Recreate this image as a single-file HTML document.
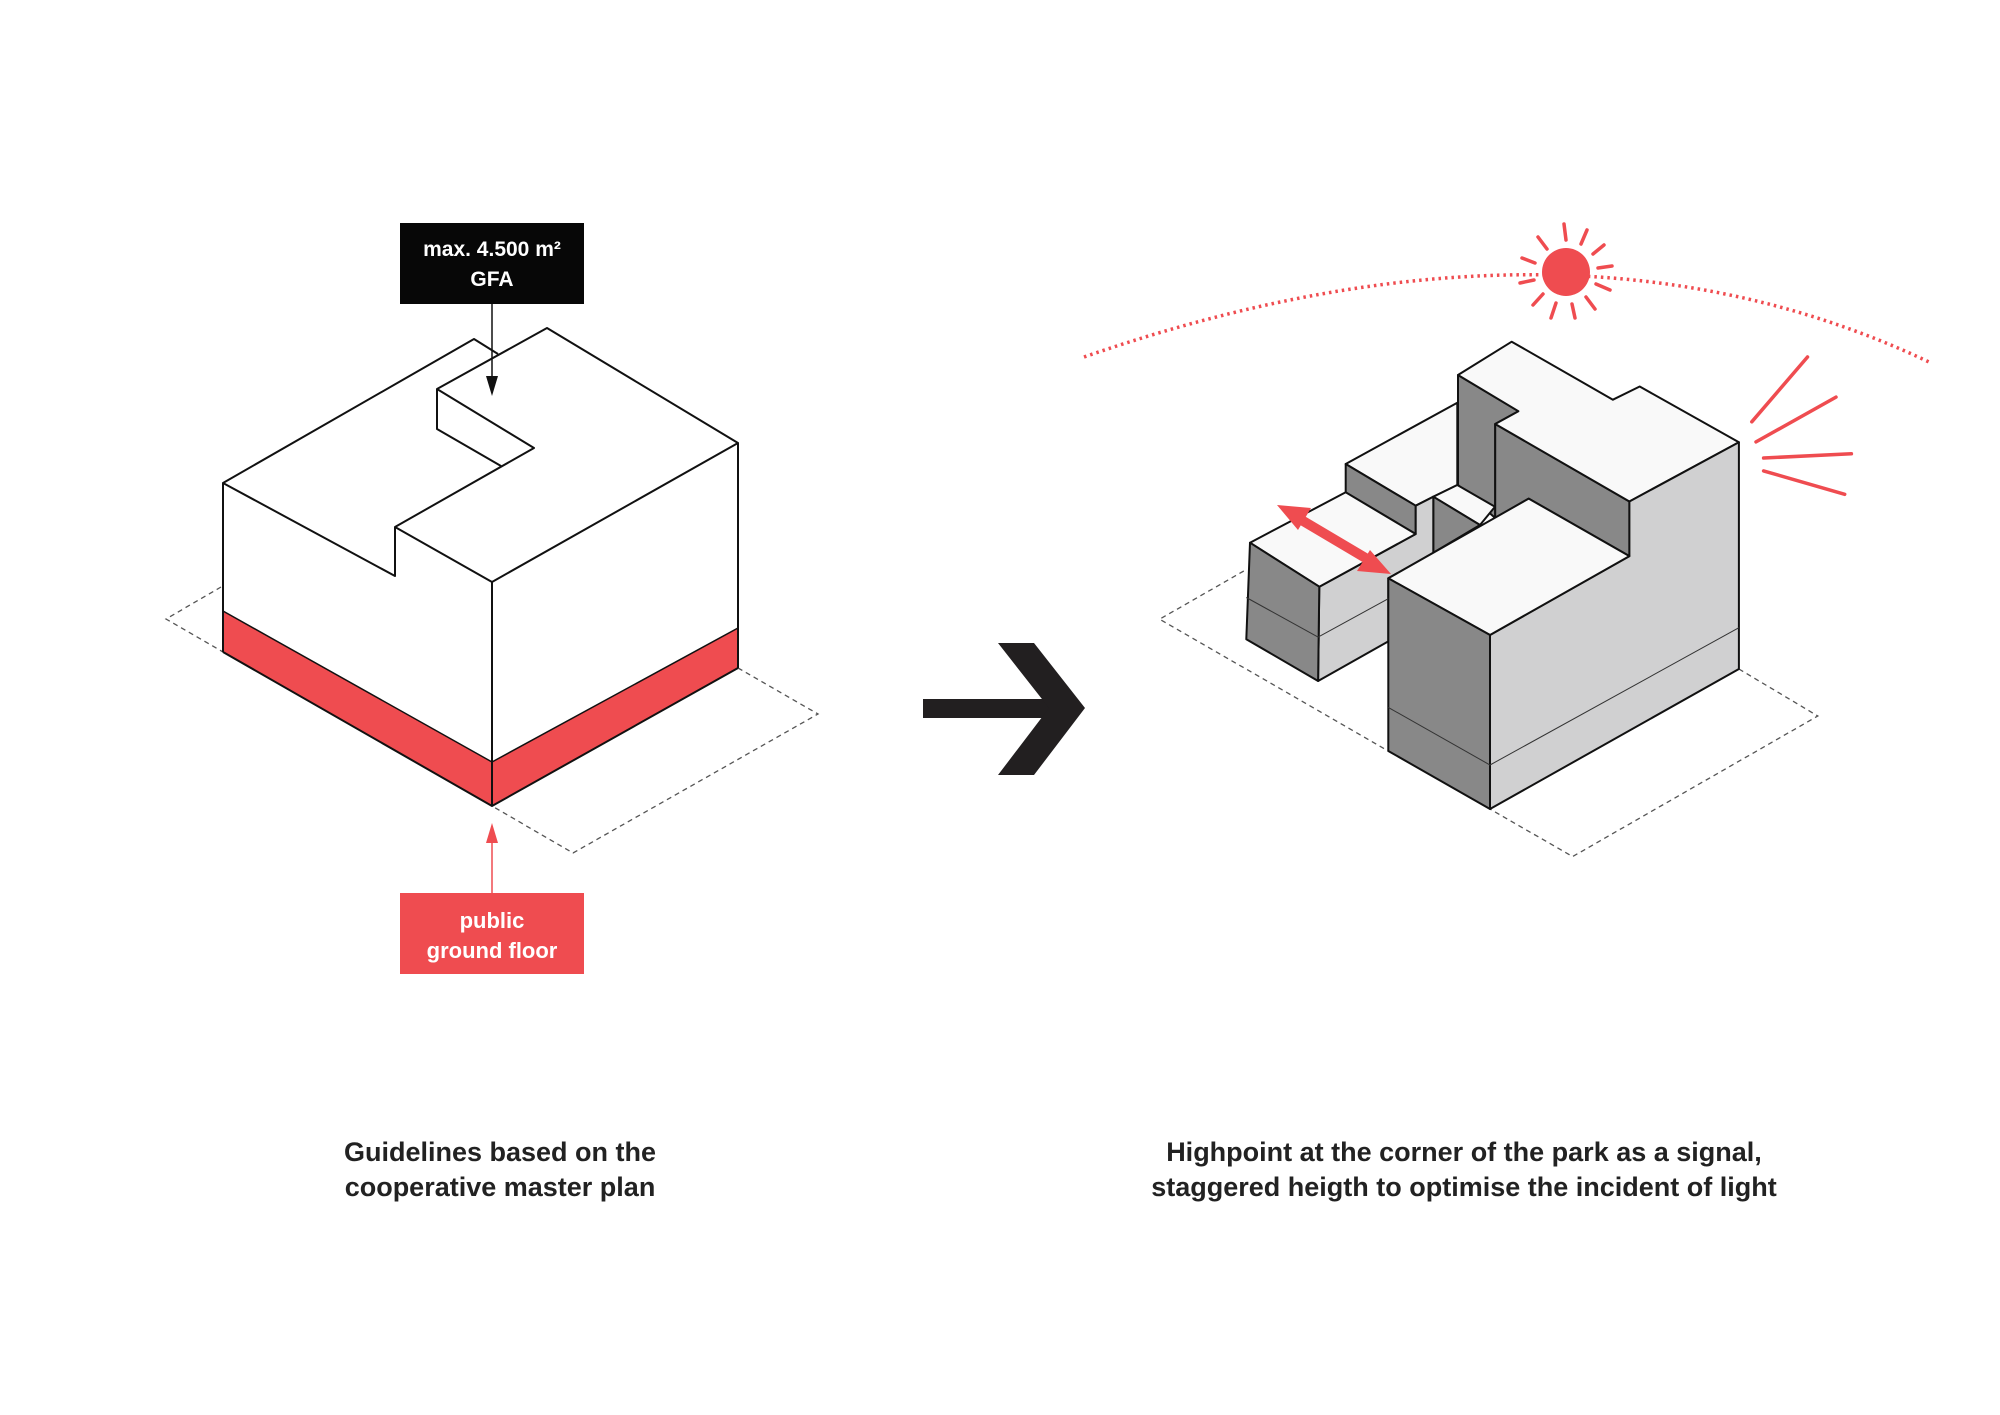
<!DOCTYPE html>
<html><head><meta charset="utf-8"><style>
html,body{margin:0;padding:0;background:#fff;}
svg{display:block}
text{font-family:"Liberation Sans",sans-serif;font-weight:bold;}
</style></head><body>
<svg width="2000" height="1415" viewBox="0 0 2000 1415" xmlns="http://www.w3.org/2000/svg">
<rect width="2000" height="1415" fill="#fff"/>
<g fill="none" stroke="#555" stroke-width="1.3" stroke-dasharray="5,4">
<polyline points="221,587 166,619 223,652"/>
<polyline points="738,668 818,714 573,853 492,806"/>
</g>
<polygon points="223,483 474,339 547,328 738,443 738,668 492,806 223,652" fill="#fff"/>
<polygon points="223,611 492,762 492,806 223,652" fill="#ef4c50"/>
<polygon points="492,762 738,628 738,668 492,806" fill="#ef4c50"/>
<g fill="none" stroke="#111" stroke-width="2" stroke-linejoin="round">
<polyline points="498,354 474,339 223,483 395,576 395,527 492,582 738,443 547,328 437,389 437,429 501,466"/>
<polyline points="437,389 534,448 395,527"/>
<line x1="223" y1="483" x2="223" y2="652"/>
<line x1="492" y1="582" x2="492" y2="806"/>
<line x1="738" y1="443" x2="738" y2="668"/>
<polyline points="223,652 492,806 738,668"/>
<polyline points="223,611 492,762 738,628" stroke-width="1.5"/>
</g>
<rect x="400" y="223" width="184" height="81" fill="#070707"/>
<text x="492" y="256" fill="#fff" font-size="21" text-anchor="middle">max. 4.500 m²</text>
<text x="492" y="286" fill="#fff" font-size="21" text-anchor="middle">GFA</text>
<line x1="492" y1="304" x2="492" y2="378" stroke="#111" stroke-width="1.5"/>
<polygon points="486,376 498,376 492,396" fill="#111"/>
<rect x="400" y="893" width="184" height="81" fill="#ef4c50"/>
<text x="492" y="928" fill="#fff" font-size="22" text-anchor="middle" font-weight="normal">public</text>
<text x="492" y="958" fill="#fff" font-size="22" text-anchor="middle" font-weight="normal">ground floor</text>
<line x1="492" y1="893" x2="492" y2="840" stroke="#ef4c50" stroke-width="1.5"/>
<polygon points="486,843 498,843 492,823" fill="#ef4c50"/>
<rect x="923" y="699" width="142" height="19" fill="#221f20"/>
<polygon points="998,643 1034,643 1085,708 1034,775 998,775 1049,708" fill="#221f20"/>
<g fill="none" stroke="#555" stroke-width="1.3" stroke-dasharray="5,4">
<polyline points="1243.8,571 1159.6,619.2 1388.3,751"/>
<polyline points="1738.9,669 1817.8,716 1572.6,856.6 1490,809"/>
</g>
<path d="M1084,357 Q1566,190 1929,362" fill="none" stroke="#ef4c50" stroke-width="3.5" stroke-dasharray="2.5,4"/>
<circle cx="1566" cy="272" r="24" fill="#ef4c50"/>
<g stroke="#ef4c50" stroke-width="3.5" stroke-linecap="round">
<line x1="1566" y1="240" x2="1564" y2="224"/>
<line x1="1581" y1="244" x2="1587" y2="230"/>
<line x1="1593" y1="254" x2="1604" y2="245"/>
<line x1="1598" y1="268" x2="1612" y2="266"/>
<line x1="1596" y1="284" x2="1610" y2="290"/>
<line x1="1586" y1="297" x2="1595" y2="309"/>
<line x1="1572" y1="304" x2="1575" y2="318"/>
<line x1="1556" y1="303" x2="1551" y2="318"/>
<line x1="1543" y1="294" x2="1533" y2="305"/>
<line x1="1534" y1="280" x2="1520" y2="283"/>
<line x1="1535" y1="263" x2="1522" y2="258"/>
<line x1="1547" y1="249" x2="1538" y2="237"/>
</g>
<g stroke="#ef4c50" stroke-width="3.5" stroke-linecap="round">
<line x1="1751.8" y1="421.8" x2="1807.5" y2="357"/>
<line x1="1756" y1="441.9" x2="1836" y2="397.1"/>
<line x1="1763.6" y1="458" x2="1851.4" y2="453.8"/>
<line x1="1763.6" y1="470.9" x2="1844.7" y2="494.3"/>
</g>
<g stroke="#111" stroke-width="2" stroke-linejoin="round">
<polygon points="1345.7,464 1457.3,402.7 1457.3,485 1415.7,505.7" fill="#f9f9f9"/>
<polygon points="1345.7,464 1415.7,505.7 1415.7,534 1345.7,492.3" fill="#888"/>
<polygon points="1458,375 1518.4,411.2 1495.2,424 1495.2,518 1458,485" fill="#888"/>
<polygon points="1495.2,424 1629.4,501.5 1629.4,556.1 1528.7,498.6 1495.2,518" fill="#888"/>
<polygon points="1458,375 1511.7,341.7 1612.9,399.7 1639.7,386.5 1738.9,442.3 1629.4,501.5 1495.2,424 1518.4,411.2" fill="#f9f9f9"/>
<polygon points="1738.9,442.3 1629.4,501.5 1629.4,556.1 1490,635 1490,809 1738.9,669" fill="#d0d0d1"/>
<polygon points="1433.3,496.7 1457.3,485 1495,506.7 1480,525" fill="#f9f9f9"/>
<polygon points="1433.3,496.7 1480,525 1433.3,552.7" fill="#888"/>
<polygon points="1319.3,586.7 1415.7,534 1415.7,505.7 1433.3,496.7 1433.3,552.7 1388.3,578.3 1388.3,641.4 1318.1,681" fill="#d0d0d1"/>
<polygon points="1250,542.7 1345.7,492.3 1415.7,534 1319.3,586.7" fill="#f9f9f9"/>
<polygon points="1250,542.7 1319.3,586.7 1318.1,681 1246.3,639.2" fill="#888"/>
<polygon points="1388.3,578.3 1528.7,498.6 1629.4,556.1 1490,635" fill="#f9f9f9"/>
<polygon points="1388.3,578.3 1490,635 1490,809 1388.3,751" fill="#888"/>
</g>
<g stroke="#333" stroke-width="1" fill="none">
<polyline points="1246.3,597.5 1318.1,637.1 1388.3,598.7"/>
<polyline points="1388.3,707.4 1490,765 1738.9,627.7"/>
</g>
<line x1="1293" y1="515" x2="1374" y2="563" stroke="#ef4c50" stroke-width="10"/>
<polygon points="1277,505 1311,508 1298,530" fill="#ef4c50"/>
<polygon points="1391,574 1357,571 1370,550" fill="#ef4c50"/>
<text x="500" y="1161" font-size="27" fill="#222" text-anchor="middle">Guidelines based on the</text>
<text x="500" y="1196" font-size="27" fill="#222" text-anchor="middle">cooperative master plan</text>
<text x="1464" y="1161" font-size="27" fill="#222" text-anchor="middle">Highpoint at the corner of the park as a signal,</text>
<text x="1464" y="1196" font-size="27" fill="#222" text-anchor="middle">staggered heigth to optimise the incident of light</text>
</svg>
</body></html>
